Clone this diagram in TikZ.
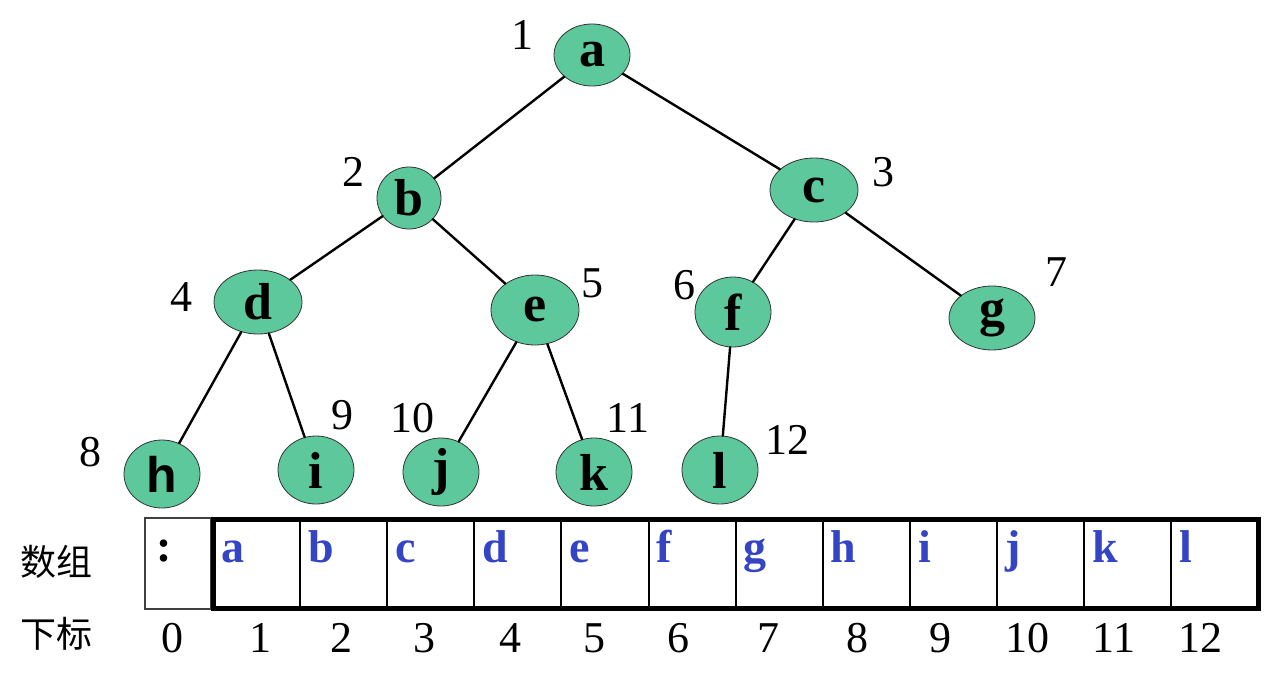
\documentclass[tikz,border=0pt]{standalone}
\usepackage{fontspec}
\setmainfont{Liberation Serif}
\setsansfont{Liberation Sans}
\newfontfamily\cjk{Noto Sans CJK SC}
\usetikzlibrary{shapes.geometric}
\definecolor{verde}{HTML}{5CC89C}
\definecolor{azul}{HTML}{3344C4}

\begin{document}
\begin{tikzpicture}[x=1pt,y=-1pt,line cap=round,
    nodo/.style={ellipse,draw=black!80,line width=0.8pt,fill=verde,inner sep=0pt,
                 minimum width=76pt,minimum height=68pt,
                 font=\fontsize{52}{52}\selectfont\bfseries},
    num/.style={font=\fontsize{44}{44}\selectfont,inner sep=0pt},
    arista/.style={line width=2.4pt},
    celda/.style={draw,line width=2pt,minimum width=87.1pt,minimum height=89pt,
                  inner sep=0pt,outer sep=0pt},
    letra/.style={azul,font=\fontsize{46}{46}\selectfont\bfseries,inner sep=0pt,
                  anchor=base west},
    rotulo/.style={font=\fontsize{36}{36}\cjk,inner sep=0pt}]
    \useasboundingbox (0,0) rectangle (1288,686);
    % --- arbol ---
    \node[nodo,minimum width=76pt,minimum height=62pt] (a) at (592,55) {a};
    \node[nodo,minimum width=64pt,minimum height=62pt] (b) at (409,198) {b};
    \node[nodo,minimum width=88pt,minimum height=64pt] (c) at (814,190) {c};
    \node[nodo,minimum width=88pt,minimum height=64pt] (d) at (258,302) {d};
    \node[nodo,minimum width=88pt,minimum height=70pt] (e) at (535,310) {e};
    \node[nodo,minimum width=76pt,minimum height=70pt] (f) at (733,312) {f};
    \node[nodo,minimum width=86pt,minimum height=64pt] (g) at (992,318) {g};
    \node[nodo,font=\fontsize{50}{50}\sffamily\bfseries] (h) at (162,474) {h};
    \node[nodo] (i) at (316,470) {i};
    \node[nodo] (j) at (441,472) {j};
    \node[nodo] (k) at (594,472) {k};
    \node[nodo] (l) at (720,470) {l};
    % --- aristas ---
    \foreach \p/\q in {a/b,a/c,b/d,b/e,c/f,c/g,d/h,d/i,e/j,e/k,f/l}{
      \draw[arista] (\p) -- (\q);
    }
    % --- numeros de los nodos ---
    \foreach \n/\x/\y in {1/522/35,2/353/172,3/883/172,4/181/297,5/592/283,6/684/285,
                          7/1056/272,8/90/452,9/342/415,10/412/418,11/628/418,12/787/440}{
      \node[num] (n\n) at (\x,\y) {\n};
    }
    % --- arreglo ---
    \node[rotulo] (fila) at (56,562) {数组};
    \node[rotulo] (sub) at (56,634) {下标};
    \node[draw=black!75,line width=1.2pt,minimum width=66pt,minimum height=91pt,
          inner sep=0pt,outer sep=0pt] (c0) at (178,563.5) {};
    \node[font=\fontsize{46}{46}\selectfont\bfseries,inner sep=0pt,anchor=base west]
          at ([xshift=11pt,yshift=-43pt]c0.north west) {:};
    \foreach \i/\l in {1/a,2/b,3/c,4/d,5/e,6/f,7/g,8/h,9/i,10/j,11/k,12/l}{
      \node[celda] (c\i) at ({169.5+87.1*\i},563.5) {};
      \node[letra] (t\i) at ([xshift=8pt,yshift=-43pt]c\i.north west) {\l};
    }
    \draw[line width=5pt] (c1.north west) rectangle (c12.south east);
    % --- indices ---
    \foreach \n/\x in {0/172,1/260,2/341,3/424,4/510,5/594,6/678,7/768,8/857,
                       9/940,10/1027,11/1114,12/1200}{
      \node[num,anchor=base] (s\n) at (\x,652) {\n};
    }
\end{tikzpicture}
\end{document}
